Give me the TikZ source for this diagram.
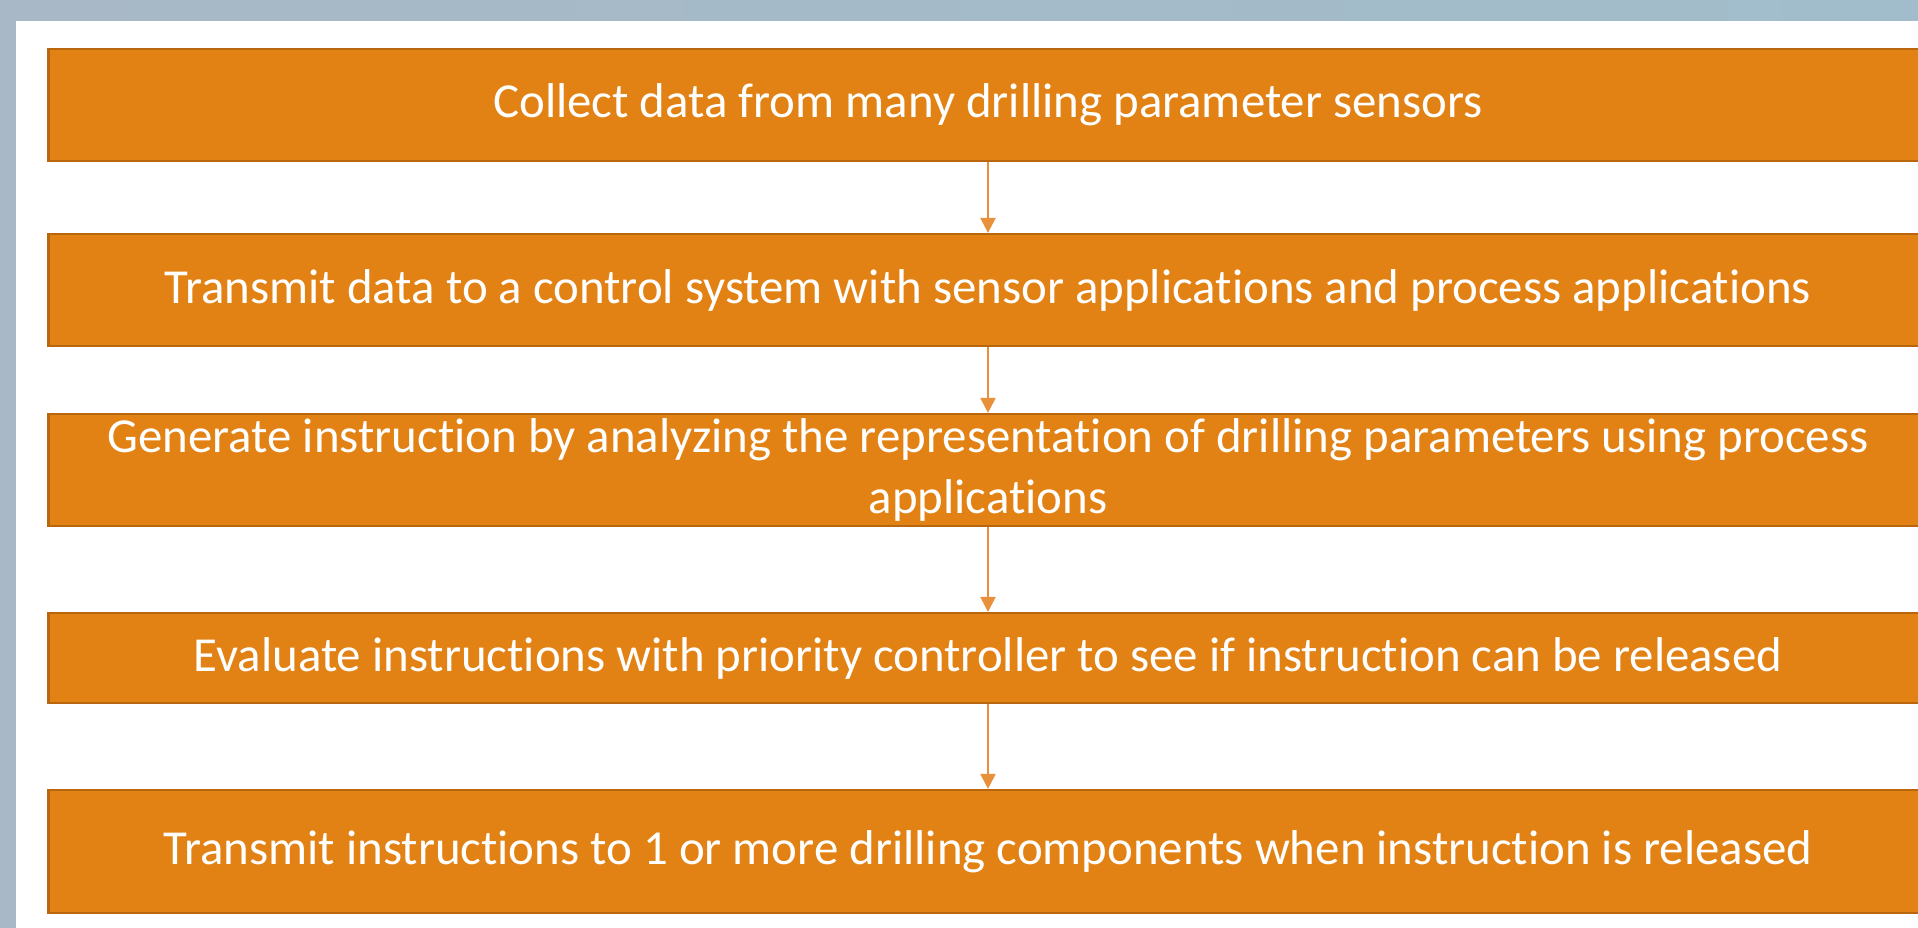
\documentclass[tikz,border=0pt]{standalone}
\usepackage{fontspec}
\setmainfont{Carlito}[Ligatures={NoCommon,NoRare,NoContextual}]
\usetikzlibrary{arrows.meta}

\definecolor{stepfill}{HTML}{E38214}
\definecolor{stepline}{HTML}{B9670F}
\definecolor{flowline}{HTML}{E8913A}
\definecolor{frameleft}{HTML}{A8B8C6}
\definecolor{frameright}{HTML}{A1BDCB}

\begin{document}
\begin{tikzpicture}[
		x=0.01cm,
		y=-0.01cm,
		stepbox/.style={
			rectangle,
			fill=stepfill,
			draw=stepline,
			line width=0.6pt,
			minimum width=18.78cm,
			inner sep=0pt,
			text=white,
			align=center,
			font=\fontsize{13.9}{17.2}\selectfont
		},
		flow/.style={
			-{Triangle[length=1.5mm,width=1.5mm]},
			draw=flowline,
			fill=flowline,
			line width=0.6pt
		}
	]
		\useasboundingbox (0,0) rectangle (1918,928);

		% slide frame and white panel
		\shade[left color=frameleft,right color=frameright] (0,0) rectangle (1918,928);
		\fill[white] (16,21) rectangle (1918,928);

		\node[stepbox,minimum height=1.12cm] (collect) at (988,105) {Collect data from many drilling parameter sensors};
		\node[stepbox,minimum height=1.12cm] (send) at (988,290) {Transmit data to a control system with sensor applications and process applications};
		\node[stepbox,minimum height=1.12cm] (generate) at (988,470) {Generate instruction by analyzing the representation of drilling parameters using process\\applications};
		\node[stepbox,minimum height=0.90cm] (evaluate) at (988,658) {Evaluate instructions with priority controller to see if instruction can be released};
		\node[stepbox,minimum height=1.23cm] (release) at (988,851.5) {Transmit instructions to 1 or more drilling components when instruction is released};

		\foreach \a/\b in {collect/send,send/generate,generate/evaluate,evaluate/release}
			\draw[flow] (\a.south) -- (\b.north);
	\end{tikzpicture}
\end{document}
